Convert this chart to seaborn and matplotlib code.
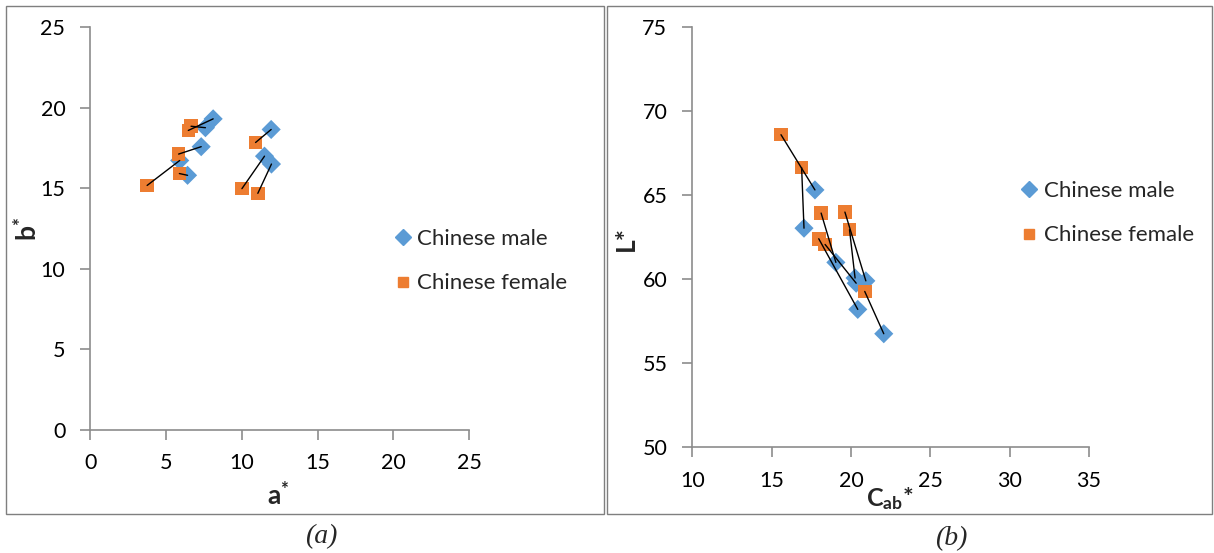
import matplotlib
matplotlib.use("Agg")
import matplotlib.pyplot as plt
from matplotlib.lines import Line2D
from matplotlib.patches import Rectangle
import seaborn as sns
import pandas as pd

# Panel (a): CIELAB a* / b* coordinates
male_a = [8.11, 7.60, 7.32, 5.90, 6.42, 11.94, 11.50, 11.96]
male_b = [19.32, 18.77, 17.59, 16.73, 15.81, 18.66, 17.00, 16.51]
female_a = [6.47, 6.65, 5.83, 3.75, 5.88, 10.91, 10.01, 11.06]
female_b = [18.60, 18.86, 17.13, 15.18, 15.92, 17.85, 14.98, 14.69]

# Panel (b): chroma C*ab / lightness L*
male_c = [17.73, 17.04, 19.05, 20.94, 20.26, 20.33, 20.43, 22.07]
male_l = [65.32, 63.04, 61.00, 59.90, 60.07, 59.76, 58.20, 56.75]
female_c = [15.59, 16.89, 18.12, 19.62, 19.91, 18.37, 17.97, 20.87]
female_l = [68.61, 66.65, 63.94, 64.00, 62.95, 62.07, 62.41, 59.27]

groups = ["Chinese male", "Chinese female"]
a_ticks = [0, 5, 10, 15, 20, 25]
b_ticks = [0, 5, 10, 15, 20, 25]
c_ticks = [10, 15, 20, 25, 30, 35]
l_ticks = [50, 55, 60, 65, 70, 75]

BLUE = "#5B9BD5"
ORANGE = "#ED7D31"
AXIS_GRAY = "#8C8C8C"

sns.set_theme(style="white")
plt.rcParams["font.family"] = ["Lato", "DejaVu Sans"]
plt.rcParams["mathtext.fontset"] = "custom"
plt.rcParams["mathtext.rm"] = "Lato"
plt.rcParams["mathtext.bf"] = "Lato:bold"
plt.rcParams["mathtext.it"] = "Lato:italic"

W, H = 1214, 553
fig = plt.figure(figsize=(W / 100, H / 100), dpi=100)
fig.patch.set_facecolor("white")


def fx(px):
    return px / W


def fy(py):
    return 1 - py / H


# Outer frames of the two panels
fig.add_artist(Rectangle((fx(6), fy(514)), 598 / W, 508 / H,
                         transform=fig.transFigure, fill=False,
                         edgecolor="#7F7F7F", linewidth=1.0))
fig.add_artist(Rectangle((fx(607), fy(514)), 605 / W, 508 / H,
                         transform=fig.transFigure, fill=False,
                         edgecolor="#7F7F7F", linewidth=1.0))

ax1 = fig.add_axes([0.0744, 0.2231, 0.3119, 0.7272])
ax2 = fig.add_axes([0.5703, 0.1917, 0.3266, 0.7586])


def make_frame(xm, ym, xf, yf):
    return pd.DataFrame({
        "x": list(xm) + list(xf),
        "y": list(ym) + list(yf),
        "group": [groups[0]] * len(xm) + [groups[1]] * len(xf),
    })


def draw_panel(ax, xm, ym, xf, yf, xticks, yticks):
    df = make_frame(xm, ym, xf, yf)
    sns.scatterplot(data=df, x="x", y="y", hue="group", style="group",
                    palette={groups[0]: BLUE, groups[1]: ORANGE},
                    markers={groups[0]: "D", groups[1]: "s"},
                    s=95, linewidth=0, ax=ax, legend=False, zorder=3)
    # connect each female point to its male counterpart
    for x0, y0, x1, y1 in zip(xf, yf, xm, ym):
        ax.plot([x0, x1], [y0, y1], color="black", linewidth=1.0, zorder=4)
    ax.set_xlim(xticks[0], xticks[-1])
    ax.set_ylim(yticks[0], yticks[-1])
    ax.set_xticks(xticks)
    ax.set_yticks(yticks)
    for side in ("top", "right"):
        ax.spines[side].set_visible(False)
    for side in ("left", "bottom"):
        ax.spines[side].set_color(AXIS_GRAY)
        ax.spines[side].set_linewidth(1.2)
    ax.tick_params(axis="both", direction="out", length=7, width=1.2,
                   color=AXIS_GRAY, labelsize=15.5, labelcolor="black",
                   bottom=True, left=True)
    ax.tick_params(axis="y", pad=11)
    ax.tick_params(axis="x", pad=10)
    ax.set_xlabel("")
    ax.set_ylabel("")


draw_panel(ax1, male_a, male_b, female_a, female_b, a_ticks, b_ticks)
draw_panel(ax2, male_c, male_l, female_c, female_l, c_ticks, l_ticks)

handles = [
    Line2D([0], [0], marker="D", linestyle="", color=BLUE,
           markersize=8, label=groups[0]),
    Line2D([0], [0], marker="s", linestyle="", color=ORANGE,
           markersize=7.5, label=groups[1]),
]
leg_kw = dict(frameon=False, fontsize=16, handlelength=0.6,
              handletextpad=0.36, labelspacing=1.1, borderpad=0,
              borderaxespad=0, loc="upper left")
ax1.legend(handles=handles, bbox_to_anchor=(fx(396), fy(229)),
           bbox_transform=fig.transFigure, **leg_kw)
ax2.legend(handles=handles, bbox_to_anchor=(fx(1022.3), fy(181)),
           bbox_transform=fig.transFigure, **leg_kw)

# Axis titles
fig.text(fx(28), fy(229), r"$\mathbf{b}^{\mathbf{*}}$", rotation=90,
         ha="center", va="center", fontsize=19)
fig.text(fx(278), fy(496), r"$\mathbf{a}^{\mathbf{*}}$",
         ha="center", va="center", fontsize=19)
fig.text(fx(626), fy(238), "L*", rotation=90, fontweight="bold",
         ha="center", va="center", fontsize=19)
fig.text(fx(890), fy(499), r"$\mathbf{C}_{\mathbf{ab}}\mathbf{*}$",
         ha="center", va="center", fontsize=18)

# Panel captions
fig.text(fx(321.5), fy(537), "(a)", ha="center", va="center",
         fontsize=20, fontstyle="italic", family="Liberation Serif")
fig.text(fx(951), fy(539), "(b)", ha="center", va="center",
         fontsize=20, fontstyle="italic", family="Liberation Serif")

fig.savefig("out.png", dpi=100, facecolor="white")
